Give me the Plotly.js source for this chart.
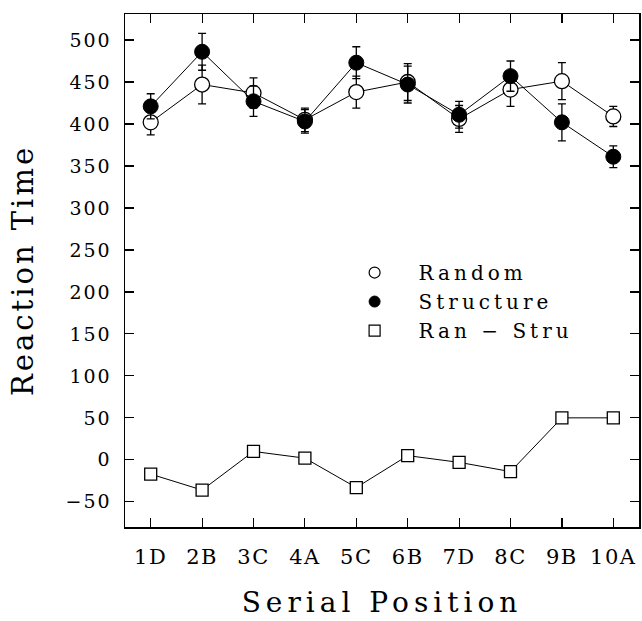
<!DOCTYPE html>
<html>
<head>
<meta charset="utf-8">
<script src="https://cdn.plot.ly/plotly-3.0.1.min.js"></script>
<style>
html,body{margin:0;padding:0;background:#fff;}
#chart{width:642px;height:621px;}
#chart .xtick text{letter-spacing:1.5px;}
#chart .ytick text{letter-spacing:2px;}
text.xtitle{letter-spacing:5px;}
text.ytitle{letter-spacing:3px;}
text.legendtext{letter-spacing:4px;}
#chart .legend .scrollbox{clip-path:none !important;}
</style>
</head>
<body>
<div id="chart"></div>
<script>
var positions = ["1D", "2B", "3C", "4A", "5C", "6B", "7D", "8C", "9B", "10A"];
var randomRT = [402, 447, 437, 405, 438, 450, 406, 441, 451, 409];
var randomErr = [15, 23, 18, 14, 19, 22, 16, 20, 22, 12];
var structureRT = [421, 486, 427, 403, 473, 447, 411, 457, 402, 361];
var structureErr = [15, 22, 18, 14, 19, 22, 16, 18, 22, 13];
var diffRT = [-17, -36, 10, 2, -33, 5, -3, -14, 50, 50];
var seriesNames = ["Random", "Structure", "Ran \u2212 Stru"];

var FONT = "DejaVu Serif, Liberation Serif, serif";

var traces = [
  {
    x: positions, y: randomRT, type: "scatter", mode: "lines+markers",
    showlegend: false,
    line: {color: "#000", width: 1},
    marker: {symbol: "circle", size: 15, color: "#fff", line: {color: "#000", width: 1.3}},
    error_y: {type: "data", array: randomErr, visible: true, color: "#000", thickness: 1.3, width: 4}
  },
  {
    x: positions, y: structureRT, type: "scatter", mode: "lines+markers",
    showlegend: false,
    line: {color: "#000", width: 1},
    marker: {symbol: "circle", size: 15, color: "#000", line: {color: "#000", width: 1}},
    error_y: {type: "data", array: structureErr, visible: true, color: "#000", thickness: 1.3, width: 4}
  },
  {
    x: positions, y: diffRT, type: "scatter", mode: "lines+markers",
    showlegend: false,
    line: {color: "#000", width: 1},
    marker: {symbol: "square", size: 12, color: "#fff", line: {color: "#000", width: 1.3}}
  },
  {
    x: [null], y: [null], type: "scatter", mode: "markers", name: seriesNames[0],
    marker: {symbol: "circle", size: 11, color: "#fff", line: {color: "#000", width: 1.2}}
  },
  {
    x: [null], y: [null], type: "scatter", mode: "markers", name: seriesNames[1],
    marker: {symbol: "circle", size: 11, color: "#000", line: {color: "#000", width: 1}}
  },
  {
    x: [null], y: [null], type: "scatter", mode: "markers", name: seriesNames[2],
    marker: {symbol: "square", size: 11, color: "#fff", line: {color: "#000", width: 1.2}}
  }
];

var layout = {
  width: 642, height: 621,
  margin: {l: 125, r: 3, t: 14, b: 94},
  paper_bgcolor: "#fff", plot_bgcolor: "#fff",
  font: {family: FONT, color: "#000"},
  showlegend: true,
  legend: {
    x: 0.40, y: 0.534, xanchor: "left", yanchor: "top",
    bgcolor: "rgba(0,0,0,0)", borderwidth: 0,
    font: {family: FONT, size: 20, color: "#000"},
    itemwidth: 78,
    traceorder: "normal"
  },
  xaxis: {
    type: "category",
    range: [-0.5, 9.5],
    showgrid: false, zeroline: false,
    showline: true, linecolor: "#000", linewidth: 1.5, mirror: "ticks",
    ticks: "inside", ticklen: 9, tickwidth: 1.2, tickcolor: "#000",
    tickfont: {family: FONT, size: 21, color: "#000"},
    ticklabelstandoff: 10,
    title: {text: "Serial Position", font: {family: FONT, size: 28, color: "#000"}, standoff: 24}
  },
  yaxis: {
    range: [-80, 531],
    tickvals: [-50, 0, 50, 100, 150, 200, 250, 300, 350, 400, 450, 500],
    showgrid: false, zeroline: false,
    showline: true, linecolor: "#000", linewidth: 1.5, mirror: "ticks",
    ticks: "inside", ticklen: 9, tickwidth: 1.2, tickcolor: "#000",
    tickfont: {family: FONT, size: 19, color: "#000"},
    ticklabelstandoff: 8,
    title: {text: "Reaction Time", font: {family: FONT, size: 29, color: "#000"}, standoff: 29}
  }
};

Plotly.newPlot("chart", traces, layout, {staticPlot: true, displayModeBar: false});
</script>
</body>
</html>
